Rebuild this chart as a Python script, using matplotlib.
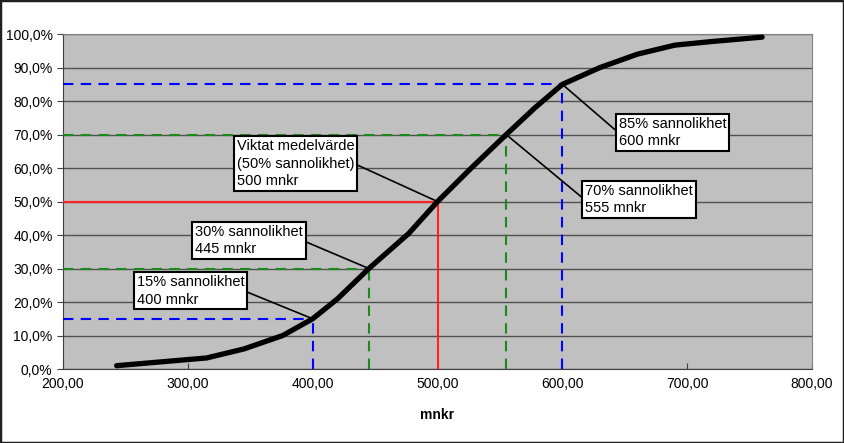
import matplotlib
matplotlib.use("Agg")
import matplotlib.pyplot as plt
from matplotlib.patches import Rectangle
from matplotlib.ticker import FuncFormatter, MultipleLocator

plt.rcParams['font.family'] = ['Liberation Sans', 'DejaVu Sans']

# kurva: kostnad (mnkr) mot sannolikhet (%)
cost = [243, 315, 345, 376, 400, 420, 445, 477, 500, 527, 555, 578, 600, 630, 660, 690, 720, 760]
prob = [1.0, 3.3, 6.0, 10.0, 15.0, 21.0, 30.0, 40.5, 50.0, 60.0, 70.0, 78.0, 85.0, 90.0, 94.0, 96.7, 97.8, 99.1]

# markerade nivåer
levels_pct = [15, 30, 50, 70, 85]
levels_cost = [400, 445, 500, 555, 600]
levels_color = ['#0000ff', '#1a8a1a', '#ff2020', '#1a8a1a', '#0000ff']
levels_solid = [False, False, True, False, False]

labels = [
    "15% sannolikhet\n400 mnkr",
    "30% sannolikhet\n445 mnkr",
    "Viktat medelvärde\n(50% sannolikhet)\n500 mnkr",
    "70% sannolikhet\n555 mnkr",
    "85% sannolikhet\n600 mnkr",
]
# textrutornas placering (data-koordinater) och fästpunkt på rutan
label_pos = [(259, 28.0), (306, 43.0), (339, 68.6), (618, 55.2), (645, 75.2)]
label_rel = [(1, 0.5), (1, 0.5), (1, 0.5), (0, 0.5), (0, 0.5)]

fig = plt.figure(figsize=(8.44, 4.43), dpi=100)
ax = fig.add_axes([0.0746, 0.167, 0.8876, 0.756])
ax.set_facecolor('#c0c0c0')

ax.set_xlim(200, 800)
ax.set_ylim(0, 100)
ax.yaxis.set_major_locator(MultipleLocator(10))
ax.xaxis.set_major_locator(MultipleLocator(100))
ax.yaxis.set_major_formatter(FuncFormatter(lambda v, p: f"{v:.1f}%".replace('.', ',')))
ax.xaxis.set_major_formatter(FuncFormatter(lambda v, p: f"{v:.2f}".replace('.', ',')))
ax.tick_params(axis='y', direction='out', length=4, labelsize=10, color='#404040')
ax.tick_params(axis='x', direction='in', length=4, labelsize=10, color='#404040', pad=6)

ax.grid(axis='y', color='#505050', lw=1.0)
ax.set_axisbelow(True)
for s in ['left', 'bottom']:
    ax.spines[s].set_color('#404040')
for s in ['top', 'right']:
    ax.spines[s].set_color('#808080')

# referenslinjer
for p, c, col, solid in zip(levels_pct, levels_cost, levels_color, levels_solid):
    ls = '-' if solid else (0, (5, 3.5))
    ax.plot([200, c], [p, p], color=col, lw=1.5, ls=ls, zorder=3)
    ax.plot([c, c], [0, p], color=col, lw=1.5, ls=ls, zorder=3)

ax.plot(cost, prob, color='black', lw=3.8, solid_capstyle='round', zorder=4)

for txt, (lx, ly), rel, c, p in zip(labels, label_pos, label_rel, levels_cost, levels_pct):
    ax.annotate(txt, xy=(c, p), xytext=(lx, ly), textcoords='data',
                ha='left', va='top', fontsize=10.5, linespacing=1.3, zorder=5,
                bbox=dict(boxstyle='square,pad=0.2', fc='white', ec='black', lw=1.5),
                arrowprops=dict(arrowstyle='-', color='black', lw=1.2,
                                relpos=rel, shrinkA=0, shrinkB=0))

ax.set_xlabel('mnkr', fontsize=10, fontweight='bold', labelpad=12)

fig.patches.append(Rectangle((0, 0), 1, 1, transform=fig.transFigure,
                             fill=False, ec='#202020', lw=2.5))

fig.savefig('out.png', dpi=100)
